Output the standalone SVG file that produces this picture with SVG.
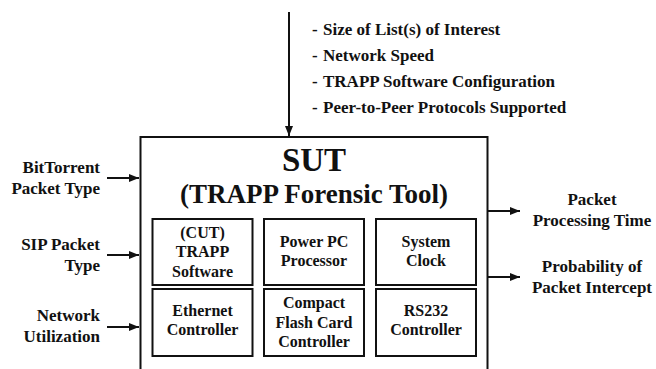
<svg xmlns="http://www.w3.org/2000/svg" width="656" height="369" viewBox="0 0 656 369" font-family="'Liberation Serif', 'Times New Roman', Times, serif">
<style>
text{font-family:'Liberation Serif','Times New Roman',Times,serif;font-weight:bold;fill:#111}
.box{fill:none;stroke:#111;stroke-width:2}
.c{stroke:#111;stroke-width:2;fill:none}
.in{font-size:16px;text-anchor:middle}
.lab{font-size:17px}
</style>
<defs>
<marker id="ah" markerWidth="10" markerHeight="8" refX="10" refY="4" orient="auto" markerUnits="userSpaceOnUse">
<path d="M0,0 L10,4 L0,8 z" fill="#111"/>
</marker>
</defs>
<g id="sut">
<rect class="box" x="140.5" y="137" width="347" height="240"/>
<text x="314" y="171" font-size="33" text-anchor="middle">SUT</text>
<text x="314" y="203" font-size="27" text-anchor="middle">(TRAPP Forensic Tool)</text>
</g>
<g id="cut">
<rect class="box" x="152.5" y="219" width="100" height="66"/>
<text class="in" x="202.5" y="238">(CUT)</text>
<text class="in" x="202.5" y="257">TRAPP</text>
<text class="in" x="202.5" y="277">Software</text>
</g>
<g id="ppc">
<rect class="box" x="264" y="219" width="100" height="66"/>
<text class="in" x="314" y="247">Power PC</text>
<text class="in" x="314" y="266">Processor</text>
</g>
<g id="clock">
<rect class="box" x="376" y="219" width="100" height="66"/>
<text class="in" x="426" y="247">System</text>
<text class="in" x="426" y="266">Clock</text>
</g>
<g id="eth">
<rect class="box" x="152.5" y="289" width="100" height="67"/>
<text class="in" x="202.5" y="316">Ethernet</text>
<text class="in" x="202.5" y="335">Controller</text>
</g>
<g id="cf">
<rect class="box" x="264" y="289" width="100" height="67"/>
<text class="in" x="314" y="308">Compact</text>
<text class="in" x="314" y="328">Flash Card</text>
<text class="in" x="314" y="347">Controller</text>
</g>
<g id="rs232">
<rect class="box" x="376" y="289" width="100" height="67"/>
<text class="in" x="426" y="316">RS232</text>
<text class="in" x="426" y="335">Controller</text>
</g>
<g id="factors">
<text class="lab" x="312" y="35">-</text><text class="lab" x="323" y="35">Size of List(s) of Interest</text>
<text class="lab" x="312" y="61">-</text><text class="lab" x="323" y="61">Network Speed</text>
<text class="lab" x="312" y="87">-</text><text class="lab" x="323" y="87">TRAPP Software Configuration</text>
<text class="lab" x="312" y="113">-</text><text class="lab" x="323" y="113">Peer-to-Peer Protocols Supported</text>
</g>
<g id="in-bittorrent">
<text class="lab" x="100" y="173" text-anchor="end">BitTorrent</text>
<text class="lab" x="100" y="194" text-anchor="end">Packet Type</text>
</g>
<g id="in-sip">
<text class="lab" x="100" y="250" text-anchor="end">SIP Packet</text>
<text class="lab" x="100" y="271" text-anchor="end">Type</text>
</g>
<g id="in-net">
<text class="lab" x="100" y="321" text-anchor="end">Network</text>
<text class="lab" x="100" y="342" text-anchor="end">Utilization</text>
</g>
<g id="out-time">
<text class="lab" x="592" y="205" text-anchor="middle">Packet</text>
<text class="lab" x="592" y="226" text-anchor="middle">Processing Time</text>
</g>
<g id="out-prob">
<text class="lab" x="592" y="272" text-anchor="middle">Probability of</text>
<text class="lab" x="592" y="293" text-anchor="middle">Packet Intercept</text>
</g>
<g id="connectors">
<line class="c" x1="289" y1="12" x2="289" y2="136" marker-end="url(#ah)"/>
<line class="c" x1="107" y1="178" x2="139" y2="178" marker-end="url(#ah)"/>
<line class="c" x1="107" y1="255" x2="139" y2="255" marker-end="url(#ah)"/>
<line class="c" x1="107" y1="327" x2="139" y2="327" marker-end="url(#ah)"/>
<line class="c" x1="488" y1="211" x2="520" y2="211" marker-end="url(#ah)"/>
<line class="c" x1="488" y1="277" x2="520" y2="277" marker-end="url(#ah)"/>
</g>
</svg>
